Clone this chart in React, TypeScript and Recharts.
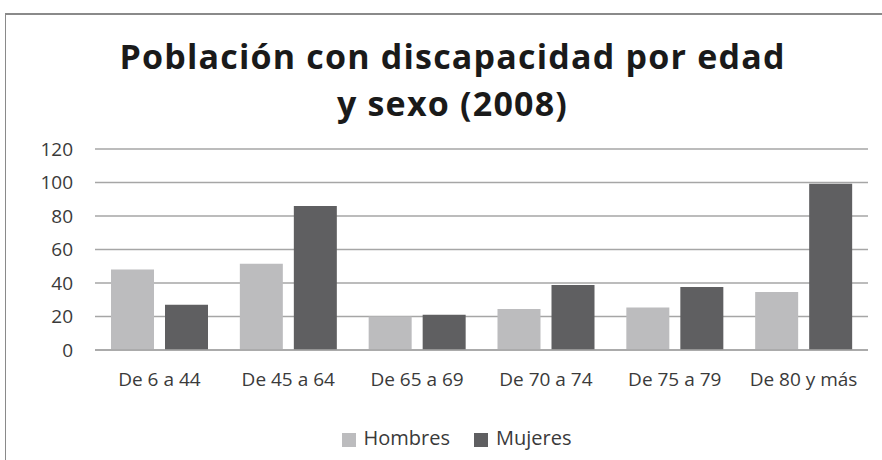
import { Bar, BarChart, CartesianGrid, Legend, XAxis, YAxis } from "recharts";

const categories = ["De 6 a 44", "De 45 a 64", "De 65 a 69", "De 70 a 74", "De 75 a 79", "De 80 y más"];
const hombres = [48, 51.5, 20, 24.5, 25.3, 34.6];
const mujeres = [27, 86, 21, 38.8, 37.6, 99.3];
const yTicks = [0, 20, 40, 60, 80, 100, 120];
const titleLines = ["Población con discapacidad por edad", "y sexo (2008)"];

const data = categories.map((name, i) => ({ name, Hombres: hombres[i], Mujeres: mujeres[i] }));

const FONT = "'Open Sans', Lato, sans-serif";

export default function App() {
  return (
    <div style={{ position: "fixed", top: 0, left: 0, width: 882, height: 460, background: "#fff", fontFamily: FONT }}>
      <div
        style={{
          position: "absolute",
          left: 5,
          top: 13,
          width: 890,
          height: 450,
          borderTop: "2px solid #8a8a8a",
          borderLeft: "1px solid #8a8a8a",
        }}
      />
      {/* título en dos líneas separadas */}
      {titleLines.map((line, i) => (
        <div
          key={line}
          style={{
            position: "absolute",
            top: 33 + i * 47,
            left: 0,
            width: 905,
            height: 46,
            textAlign: "center",
            fontSize: 34,
            fontWeight: 700,
            letterSpacing: 1.2,
            lineHeight: "46px",
            color: "#1a1a1a",
          }}
        >
          {line}
        </div>
      ))}
      <div style={{ position: "absolute", top: 0, left: 0 }}>
        <BarChart
          width={882}
          height={460}
          data={data}
          margin={{ top: 122, right: 14, left: 20, bottom: 80 }}
          barCategoryGap={16}
          barGap={11}
        >
          <CartesianGrid vertical={false} stroke="#a6a6a6" strokeWidth={1.5} />
          <XAxis
            dataKey="name"
            height={30}
            axisLine={{ stroke: "#a6a6a6", strokeWidth: 1.5 }}
            tickLine={false}
            tickSize={0}
            tickMargin={23}
            tick={{ fill: "#3a3a3a", fontSize: 19, fontFamily: FONT }}
            interval={0}
          />
          <YAxis
            width={75}
            domain={[0, 120]}
            ticks={yTicks}
            interval={0}
            axisLine={false}
            tickLine={false}
            tickSize={0}
            tickMargin={22}
            tick={{ fill: "#3a3a3a", fontSize: 19, fontFamily: FONT }}
          />
          <Legend
            verticalAlign="top"
            iconType="square"
            iconSize={14}
            wrapperStyle={{ position: "absolute", top: 424, left: 16, width: 905, fontSize: 20, fontFamily: FONT }}
            formatter={(value: string) => <span style={{ color: "#3a3a3a", marginLeft: 4, marginRight: 14 }}>{value}</span>}
          />
          <Bar dataKey="Hombres" fill="#bcbcbe" isAnimationActive={false} />
          <Bar dataKey="Mujeres" fill="#5f5f61" isAnimationActive={false} />
        </BarChart>
      </div>
    </div>
  );
}
